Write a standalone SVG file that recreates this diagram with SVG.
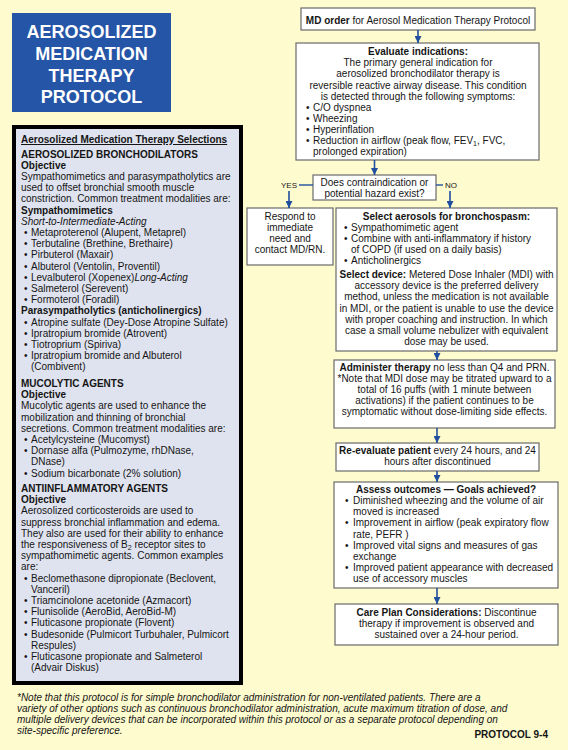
<svg xmlns="http://www.w3.org/2000/svg" width="568" height="750" viewBox="0 0 568 750">
<defs>
<marker id="ah" viewBox="0 0 10 10" refX="10" refY="5" markerWidth="8" markerHeight="7" markerUnits="userSpaceOnUse" orient="auto">
<path d="M0,0 L10,5 L0,10 z" fill="#1f4f9e"/>
</marker>
<style>
text{font-family:"Liberation Sans",Arial,Helvetica,sans-serif;font-size:10px;fill:#151515}
.b{font-weight:bold}
.i{font-style:italic}
.c{text-anchor:middle}
.box{fill:#ffffff;stroke:#6a6a6a;stroke-width:1.2}
.arr{stroke:#1f4f9e;stroke-width:1.6;fill:none;marker-end:url(#ah)}
.ln{stroke:#1f4f9e;stroke-width:1.4;fill:none}
.yn{font-size:8px}
.ttl{font-size:18px;font-weight:bold;fill:#ffffff;text-anchor:middle}
.fn{font-size:10px;font-style:italic}
.sub{font-size:7px}
</style>
</defs>
<rect x="0" y="0" width="568" height="750" fill="#fefbcf"/>

<g id="title">
<rect x="12" y="13" width="159" height="99" fill="#2455a6"/>
<text class="ttl" x="91.5" y="38">AEROSOLIZED</text>
<text class="ttl" x="91.5" y="60">MEDICATION</text>
<text class="ttl" x="91.5" y="81.5">THERAPY</text>
<text class="ttl" x="91.5" y="103">PROTOCOL</text>
</g>

<g id="selections">
<rect x="14" y="127" width="227" height="556" fill="#dfe3ef" stroke="#000" stroke-width="4"/>
<text class="b" x="21" y="143" text-decoration="underline">Aerosolized Medication Therapy Selections</text>
<text class="b" x="21" y="157.5">AEROSOLIZED BRONCHODILATORS</text>
<text class="b" x="21" y="168.6">Objective</text>
<text x="21" y="180">Sympathomimetics and parasympatholytics are</text>
<text x="21" y="191.2">used to offset bronchial smooth muscle</text>
<text x="21" y="202.4">constriction. Common treatment modalities are:</text>
<text class="b" x="21" y="213.6">Sympathomimetics</text>
<text class="i" x="21" y="224.8">Short-to-Intermediate-Acting</text>
<text x="24" y="236">•</text><text x="31" y="236">Metaproterenol (Alupent, Metaprel)</text>
<text x="24" y="247.2">•</text><text x="31" y="247.2">Terbutaline (Brethine, Brethaire)</text>
<text x="24" y="258.4">•</text><text x="31" y="258.4">Pirbuterol (Maxair)</text>
<text x="24" y="269.6">•</text><text x="31" y="269.6">Albuterol (Ventolin, Proventil)</text>
<text x="24" y="280.8">•</text><text x="31" y="280.8">Levalbuterol (Xopenex)<tspan class="i">Long-Acting</tspan></text>
<text x="24" y="292">•</text><text x="31" y="292">Salmeterol (Serevent)</text>
<text x="24" y="303.2">•</text><text x="31" y="303.2">Formoterol (Foradil)</text>
<text class="b" x="21" y="314.4">Parasympatholytics (anticholinergics)</text>
<text x="24" y="325.6">•</text><text x="31" y="325.6">Atropine sulfate (Dey-Dose Atropine Sulfate)</text>
<text x="24" y="336.8">•</text><text x="31" y="336.8">Ipratropium bromide (Atrovent)</text>
<text x="24" y="348">•</text><text x="31" y="348">Tiotroprium (Spiriva)</text>
<text x="24" y="359.2">•</text><text x="31" y="359.2">Ipratropium bromide and Albuterol</text>
<text x="31" y="370.4">(Combivent)</text>
<text class="b" x="21" y="387">MUCOLYTIC AGENTS</text>
<text class="b" x="21" y="398.2">Objective</text>
<text x="21" y="409.4">Mucolytic agents are used to enhance the</text>
<text x="21" y="420.6">mobilization and thinning of bronchial</text>
<text x="21" y="431.8">secretions. Common treatment modalities are:</text>
<text x="24" y="443">•</text><text x="31" y="443">Acetylcysteine (Mucomyst)</text>
<text x="24" y="454.2">•</text><text x="31" y="454.2">Dornase alfa (Pulmozyme, rhDNase,</text>
<text x="31" y="465.4">DNase)</text>
<text x="24" y="476.6">•</text><text x="31" y="476.6">Sodium bicarbonate (2% solution)</text>
<text class="b" x="21" y="492">ANTIINFLAMMATORY AGENTS</text>
<text class="b" x="21" y="503.2">Objective</text>
<text x="21" y="514.4">Aerosolized corticosteroids are used to</text>
<text x="21" y="525.6">suppress bronchial inflammation and edema.</text>
<text x="21" y="536.8">They also are used for their ability to enhance</text>
<text x="21" y="548">the responsiveness of B<tspan class="sub" dy="2">2</tspan><tspan dy="-2"> receptor sites to</tspan></text>
<text x="21" y="559.2">sympathomimetic agents. Common examples</text>
<text x="21" y="570.4">are:</text>
<text x="24" y="581.6">•</text><text x="31" y="581.6">Beclomethasone dipropionate (Beclovent,</text>
<text x="31" y="592.8">Vanceril)</text>
<text x="24" y="604">•</text><text x="31" y="604">Triamcinolone acetonide (Azmacort)</text>
<text x="24" y="615.2">•</text><text x="31" y="615.2">Flunisolide (AeroBid, AeroBid-M)</text>
<text x="24" y="626.4">•</text><text x="31" y="626.4">Fluticasone propionate (Flovent)</text>
<text x="24" y="637.6">•</text><text x="31" y="637.6">Budesonide (Pulmicort Turbuhaler, Pulmicort</text>
<text x="31" y="648.8">Respules)</text>
<text x="24" y="660">•</text><text x="31" y="660">Fluticasone propionate and Salmeterol</text>
<text x="31" y="671.2">(Advair Diskus)</text>
</g>

<g id="md-order">
<rect class="box" x="301" y="8" width="234" height="22"/>
<text class="c" x="418" y="23.5"><tspan class="b">MD order</tspan> for Aerosol Medication Therapy Protocol</text>
</g>

<g id="evaluate">
<rect class="box" x="296" y="43" width="243" height="117"/>
<text class="c b" x="418" y="55">Evaluate indications:</text>
<text class="c" x="418" y="66.3">The primary general indication for</text>
<text class="c" x="418" y="77.4">aerosolized bronchodilator therapy is</text>
<text class="c" x="418" y="88.5">reversible reactive airway disease. This condition</text>
<text class="c" x="418" y="99.6">is detected through the following symptoms:</text>
<text x="306" y="110.8">•</text><text x="313" y="110.8">C/O dyspnea</text>
<text x="306" y="121.9">•</text><text x="313" y="121.9">Wheezing</text>
<text x="306" y="133">•</text><text x="313" y="133">Hyperinflation</text>
<text x="306" y="144.1">•</text><text x="313" y="144.1">Reduction in airflow (peak flow, FEV<tspan class="sub" dy="2">1</tspan><tspan dy="-2">, FVC,</tspan></text>
<text x="313" y="155.2">prolonged expiration)</text>
</g>

<g id="decision">
<rect class="box" x="313" y="175" width="123" height="25"/>
<text class="c" x="374.5" y="185.5">Does contraindication or</text>
<text class="c" x="374.5" y="196.5">potential hazard exist?</text>
</g>

<g id="respond">
<rect class="box" x="247" y="208" width="86" height="57"/>
<text class="c" x="290" y="220">Respond to</text>
<text class="c" x="290" y="231">immediate</text>
<text class="c" x="290" y="242">need and</text>
<text class="c" x="290" y="253">contact MD/RN.</text>
</g>

<g id="select">
<rect class="box" x="336" y="208" width="221" height="143"/>
<text class="c b" x="446.5" y="220">Select aerosols for bronchospasm:</text>
<text x="344" y="231">•</text><text x="351" y="231">Sympathomimetic agent</text>
<text x="344" y="242">•</text><text x="351" y="242">Combine with anti-inflammatory if history</text>
<text x="351" y="253">of COPD (if used on a daily basis)</text>
<text x="344" y="264">•</text><text x="351" y="264">Anticholinergics</text>
<text class="c" x="446.5" y="278"><tspan class="b">Select device:</tspan> Metered Dose Inhaler (MDI) with</text>
<text class="c" x="446.5" y="289.2">accessory device is the preferred delivery</text>
<text class="c" x="446.5" y="300.4">method, unless the medication is not available</text>
<text class="c" x="446.5" y="311.6">in MDI, or the patient is unable to use the device</text>
<text class="c" x="446.5" y="322.8">with proper coaching and instruction. In which</text>
<text class="c" x="446.5" y="334">case a small volume nebulizer with equivalent</text>
<text class="c" x="446.5" y="345.2">dose may be used.</text>
</g>

<g id="administer">
<rect class="box" x="334" y="360" width="221" height="68"/>
<text class="c" x="444.5" y="370.5"><tspan class="b">Administer therapy</tspan> no less than Q4 and PRN.</text>
<text class="c" x="444.5" y="381.6">*Note that MDI dose may be titrated upward to a</text>
<text class="c" x="444.5" y="392.7">total of 16 puffs (with 1 minute between</text>
<text class="c" x="444.5" y="403.8">activations) if the patient continues to be</text>
<text class="c" x="444.5" y="414.9">symptomatic without dose-limiting side effects.</text>
</g>

<g id="reevaluate">
<rect class="box" x="336" y="443" width="203" height="28"/>
<text class="c" x="437.5" y="454"><tspan class="b">Re-evaluate patient</tspan> every 24 hours, and 24</text>
<text class="c" x="437.5" y="465">hours after discontinued</text>
</g>

<g id="assess">
<rect class="box" x="334" y="482" width="224" height="106"/>
<text class="c b" x="446" y="493">Assess outcomes — Goals achieved?</text>
<text x="345" y="504.2">•</text><text x="353" y="504.2">Diminished wheezing and the volume of air</text>
<text x="353" y="515.3">moved is increased</text>
<text x="345" y="526.4">•</text><text x="353" y="526.4">Improvement in airflow (peak expiratory flow</text>
<text x="353" y="537.5">rate, PEFR )</text>
<text x="345" y="548.6">•</text><text x="353" y="548.6">Improved vital signs and measures of gas</text>
<text x="353" y="559.7">exchange</text>
<text x="345" y="570.8">•</text><text x="353" y="570.8">Improved patient appearance with decreased</text>
<text x="353" y="581.9">use of accessory muscles</text>
</g>

<g id="care-plan">
<rect class="box" x="335" y="604" width="223" height="41"/>
<text class="c" x="446.5" y="616"><tspan class="b">Care Plan Considerations:</tspan> Discontinue</text>
<text class="c" x="446.5" y="627.2">therapy if improvement is observed and</text>
<text class="c" x="446.5" y="638.4">sustained over a 24-hour period.</text>
</g>

<g id="connectors">
<line class="arr" x1="418" y1="30" x2="418" y2="43"/>
<line class="arr" x1="374.5" y1="160" x2="374.5" y2="175"/>
<line class="ln" x1="299" y1="185" x2="313" y2="185"/>
<text class="yn c" x="289" y="188">YES</text>
<line class="arr" x1="289" y1="191" x2="289" y2="208"/>
<line class="ln" x1="436" y1="185" x2="443" y2="185"/>
<text class="yn" x="445" y="188">NO</text>
<line class="arr" x1="450" y1="191" x2="450" y2="208"/>
<line class="arr" x1="437" y1="351" x2="437" y2="360"/>
<line class="arr" x1="437" y1="428" x2="437" y2="443"/>
<line class="arr" x1="437" y1="471" x2="437" y2="482"/>
<line class="arr" x1="437" y1="588" x2="437" y2="604"/>
</g>

<g id="footnote">
<text class="fn" x="17" y="701">*Note that this protocol is for simple bronchodilator administration for non-ventilated patients. There are a</text>
<text class="fn" x="17" y="712">variety of other options such as continuous bronchodilator administration, acute maximum titration of dose, and</text>
<text class="fn" x="17" y="723">multiple delivery devices that can be incorporated within this protocol or as a separate protocol depending on</text>
<text class="fn" x="17" y="734">site-specific preference.</text>
<text class="b" x="548" y="738" text-anchor="end">PROTOCOL 9-4</text>
</g>
</svg>
